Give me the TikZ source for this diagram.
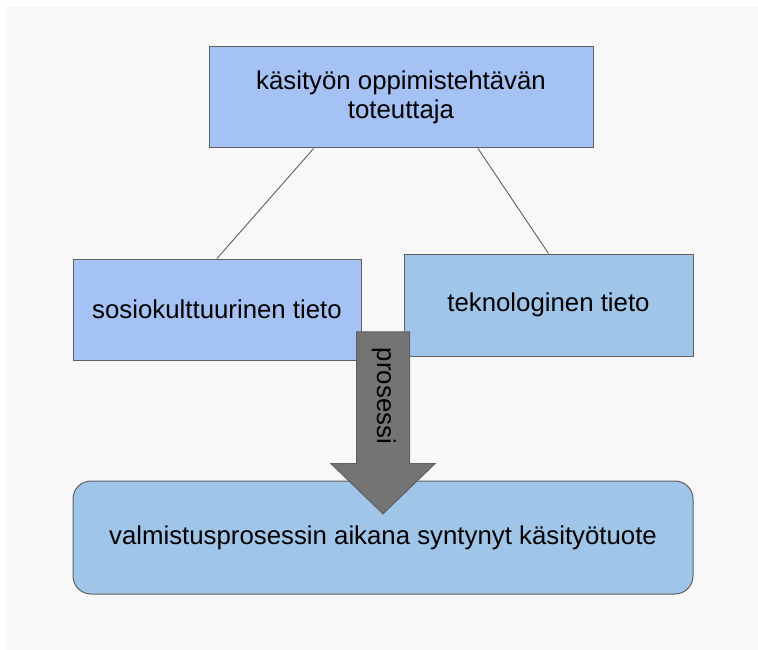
\documentclass[tikz,border=0pt]{standalone}
\usepackage{fontspec}
\setmainfont{Liberation Sans}
\usetikzlibrary{positioning, calc, shapes.arrows}
\definecolor{gBlueLight}{HTML}{A4C2F4}
\definecolor{gSkyLight}{HTML}{9FC5E8}
\definecolor{gBorder}{HTML}{5F5F5F}
\definecolor{gArrowGray}{HTML}{747474}
\definecolor{gBack}{HTML}{F8F8F8}

\begin{document}
\begin{tikzpicture}[
    x=1pt, y=1pt,
    font=\fontsize{25.8}{29}\selectfont,
    % common box style
    block/.style={
        draw=gBorder,
        line width=1pt,
        align=center,
        text=black,
        inner sep=0pt
    },
    % the actor box on top
    actor/.style={
        block,
        fill=gBlueLight,
        minimum width=384pt,
        minimum height=101pt
    },
    % knowledge boxes in the middle
    knowA/.style={
        block,
        fill=gBlueLight,
        minimum width=288pt,
        minimum height=101pt
    },
    knowB/.style={
        block,
        fill=gSkyLight,
        minimum width=289pt,
        minimum height=102pt
    },
    % product box (rounded)
    product/.style={
        block,
        fill=gSkyLight,
        rounded corners=18pt,
        minimum width=620pt,
        minimum height=113pt
    },
    % the big process arrow
    procarrow/.style={
        single arrow,
        draw=gBorder,
        line width=1pt,
        fill=gArrowGray,
        text=black,
        rotate=-90,
        minimum height=182pt,
        text height=18pt,
        text depth=6pt,
        inner ysep=14pt,
        single arrow head extend=25.5pt,
        single arrow tip angle=92
    },
    link/.style={
        draw=gBorder,
        line width=0.9pt
    }
]

    % --- background ---
    \useasboundingbox (0,0) rectangle (758,-650);
    \fill[gBack] (6,-7) rectangle (758,-650);

    % --- 1. top box ---
    \node[actor] (actor) at (401,-97.5) {käsityön oppimistehtävän\\toteuttaja};

    % --- 2. the two knowledge boxes ---
    \node[knowA, below=110pt of actor.south west, anchor=north west, xshift=-136pt] (socio) {sosiokulttuurinen tieto};
    \node[knowB, right=42pt of socio.north east, anchor=north west, yshift=5pt] (tekno) {teknologinen tieto};

    % --- 3. product box ---
    \node[product, below=120pt of socio.south west, anchor=north west] (tuote) {valmistusprosessin aikana syntynyt käsityötuote};

    % lines from the top box
    \draw[link] ($(actor.south west)!0.273!(actor.south east)$) -- (socio.north);
    \draw[link] ($(actor.south west)!0.70!(actor.south east)$) -- (tekno.north);

    % process arrow into the product (text pushed toward the tail)
    \node[procarrow, anchor=tip] (proc) at ($(tuote.north)+(0,-34pt)$) {prosessi\hspace*{28pt}};

\end{tikzpicture}
\end{document}
